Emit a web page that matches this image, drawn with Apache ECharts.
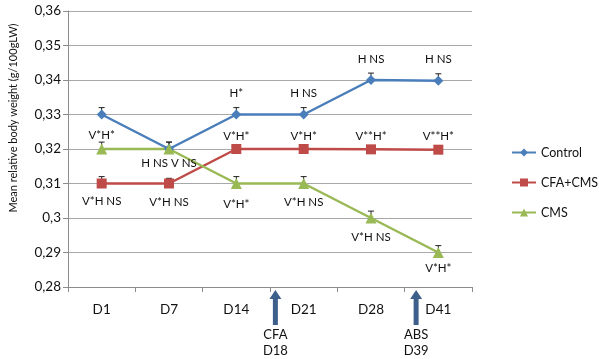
<!DOCTYPE html>
<html>
<head>
<meta charset="utf-8">
<script src="https://cdn.jsdelivr.net/npm/echarts@6/dist/echarts.min.js"></script>
<style>
  html, body { margin: 0; padding: 0; background: #fff; }
  #chart { width: 599px; height: 359px; }
</style>
</head>
<body>
<div id="chart"></div>
<script>
const days = ['D1', 'D7', 'D14', 'D21', 'D28', 'D41'];

const control = [0.33, 0.32, 0.33, 0.33, 0.34, 0.3398];
const cfaCms = [0.31, 0.31, 0.32, 0.32, 0.3199, 0.3198];
const cms = [0.32, 0.32, 0.31, 0.31, 0.30, 0.29];

const controlErr = [0.002, 0.002, 0.002, 0.002, 0.002, 0.002];
const cfaCmsErr = [0.002, 0.0015, 0.0005, 0.0005, 0.0005, 0.0005];
const cmsErr = [0.002, 0.002, 0.002, 0.002, 0.002, 0.002];

// significance notes, '' = none
const controlNotes = ['', 'H NS V NS', 'H*', 'H NS', 'H NS', 'H NS'];
const controlWhere = ['', 'bottom', 'top', 'top', 'top', 'top'];
const cfaCmsNotes = ['V*H NS', 'V*H NS', 'V*H*', 'V*H*', 'V**H*', 'V**H*'];
const cfaCmsWhere = ['bottom', 'bottom', 'top', 'top', 'top', 'top'];
const cmsNotes = ['V*H*', '', 'V*H*', 'V*H NS', 'V*H NS', 'V*H*'];
const cmsWhere = ['top', '', 'bottom', 'bottom', 'bottom', 'bottom'];

const arrowMarks = [
  { from: 'D14', to: 'D21', shift: 0.58, text: 'CFA\nD18' },
  { from: 'D28', to: 'D41', shift: 0.67, text: 'ABS\nD39' }
];

const FONT = 'Lato';

function points(values, notes, where, topGap, bottomGap) {
  return values.map((v, i) => ({
    value: v,
    label: notes[i] ? {
      show: true,
      formatter: notes[i],
      position: where[i],
      distance: where[i] === 'top' ? topGap : bottomGap[i]
    } : { show: false }
  }));
}

function errData(values, errs) {
  return values.map((v, i) => [i, v, errs[i]]);
}

function renderErr(params, api) {
  const x = api.value(0);
  const y = api.value(1);
  const e = api.value(2);
  const p0 = api.coord([x, y]);
  const p1 = api.coord([x, y + e]);
  const style = { stroke: '#222', lineWidth: 1 };
  return {
    type: 'group',
    children: [
      { type: 'line', shape: { x1: p0[0], y1: p0[1], x2: p1[0], y2: p1[1] }, style },
      { type: 'line', shape: { x1: p1[0] - 3, y1: p1[1], x2: p1[0] + 3, y2: p1[1] }, style }
    ]
  };
}

function lineSeries(name, color, symbol, size, data) {
  return {
    name,
    type: 'line',
    data,
    symbol,
    symbolSize: size,
    z: 3,
    lineStyle: { color, width: 2.5 },
    itemStyle: { color },
    label: { color: '#111', fontSize: 11.5, fontFamily: FONT },
    emphasis: { disabled: true }
  };
}

function errSeries(values, errs) {
  return {
    type: 'custom',
    renderItem: renderErr,
    data: errData(values, errs),
    z: 2,
    silent: true
  };
}

const chart = echarts.init(document.getElementById('chart'));
chart.setOption({
  animation: false,
  textStyle: { fontFamily: FONT },
  grid: { left: 61, right: 127, top: 11, bottom: 72 },
  legend: {
    orient: 'vertical',
    left: 506,
    top: 141,
    itemGap: 17,
    itemWidth: 24,
    itemHeight: 10,
    textStyle: { fontSize: 12.5, color: '#111', fontFamily: FONT },
    data: ['Control', 'CFA+CMS', 'CMS']
  },
  xAxis: {
    type: 'category',
    data: days,
    axisLine: { lineStyle: { color: '#8c8c8c' } },
    axisTick: { show: true, length: 5, lineStyle: { color: '#8c8c8c' } },
    axisLabel: { fontSize: 13.5, color: '#111', margin: 16 }
  },
  yAxis: {
    type: 'value',
    min: 0.28,
    max: 0.36,
    interval: 0.01,
    name: 'Mean relative body weight (g/100gLW)',
    nameLocation: 'middle',
    nameGap: 49,
    nameTextStyle: { fontSize: 11, color: '#111', padding: [0, 0, 0, 62] },
    axisLine: { show: true, lineStyle: { color: '#8c8c8c' } },
    axisTick: { show: true, length: 5, lineStyle: { color: '#8c8c8c' } },
    axisLabel: {
      fontSize: 13.5,
      color: '#111',
      margin: 7,
      formatter: v => String(parseFloat(v.toFixed(2))).replace('.', ',')
    },
    splitLine: { lineStyle: { color: '#a8a8a8', width: 1 } }
  },
  series: [
    lineSeries('Control', '#4a7ebb', 'diamond', 10,
      points(control, controlNotes, controlWhere, 10, [0, 3, 0, 0, 0, 0])),
    lineSeries('CFA+CMS', '#be4b48', 'rect', 10,
      points(cfaCms, cfaCmsNotes, cfaCmsWhere, 2, [7, 8, 0, 0, 0, 0])),
    lineSeries('CMS', '#98b954', 'triangle', 11,
      points(cms, cmsNotes, cmsWhere, 2, [0, 0, 9, 7, 8, 4])),
    errSeries(control, controlErr),
    errSeries(cfaCms, cfaCmsErr),
    errSeries(cms, cmsErr)
  ]
});

// arrows below the axis marking treatment days
const baseY = chart.convertToPixel({ yAxisIndex: 0 }, 0.28);
const arrows = arrowMarks.map(a => {
  const x0 = chart.convertToPixel({ xAxisIndex: 0 }, a.from);
  const x1 = chart.convertToPixel({ xAxisIndex: 0 }, a.to);
  const x = x0 + (x1 - x0) * a.shift;
  const top = baseY + 3;
  return {
    type: 'group',
    children: [
      {
        type: 'polygon',
        shape: {
          points: [
            [x, top], [x + 6, top + 9], [x + 2.5, top + 9], [x + 2.5, top + 35],
            [x - 2.5, top + 35], [x - 2.5, top + 9], [x - 6, top + 9]
          ]
        },
        style: { fill: '#3d5f8c' }
      },
      {
        type: 'text',
        x: x,
        y: top + 37,
        style: {
          text: a.text,
          fontSize: 13,
          fontFamily: FONT,
          fill: '#111',
          align: 'center',
          verticalAlign: 'top',
          lineHeight: 16
        }
      }
    ]
  };
});
chart.setOption({ graphic: arrows });
</script>
</body>
</html>
